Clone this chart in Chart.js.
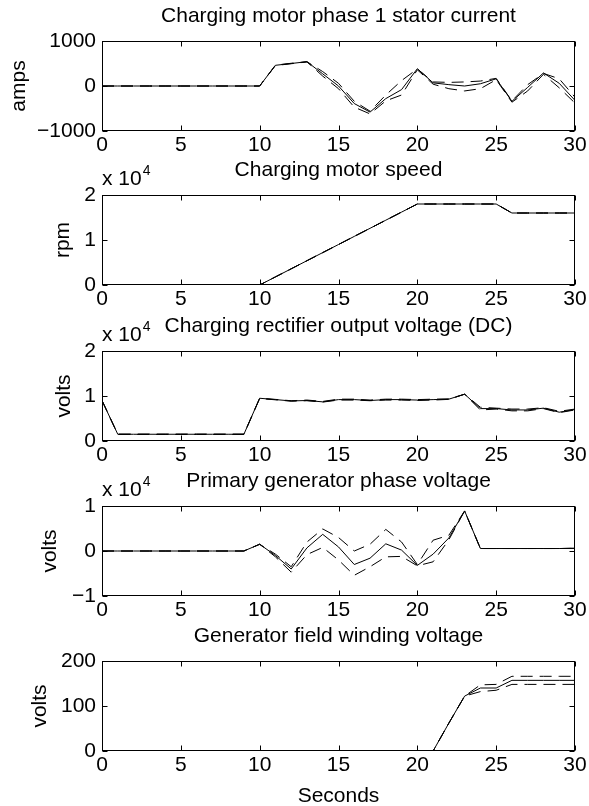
<!DOCTYPE html>
<html>
<head>
<meta charset="utf-8">
<script src="https://cdn.jsdelivr.net/npm/chart.js@4.4.1/dist/chart.umd.min.js"></script>
<style>
  html, body { margin: 0; padding: 0; background: #fff; }
  #wrap { position: relative; width: 589px; height: 806px; overflow: hidden; }
  canvas { position: absolute; left: 0; }
</style>
</head>
<body>
<div id="wrap">
  <canvas id="c1"></canvas>
  <canvas id="c2"></canvas>
  <canvas id="c3"></canvas>
  <canvas id="c4"></canvas>
  <canvas id="c5"></canvas>
</div>
<script>
// time axis (seconds)
const seconds = [0,1,2,3,4,5,6,7,8,9,10,11,12,13,14,15,16,17,18,19,20,21,22,23,24,25,26,27,28,29,30];
const xTicks = [0, 5, 10, 15, 20, 25, 30];

// Charging motor phase 1 stator current (amps)
const currentSolid = [0,0,0,0,0,0,0,0,0,0,0,460,500,540,270,0,-390,-580,-280,-80,385,70,30,0,50,160,-340,-30,290,60,-320];
const currentUpper = [0,0,0,0,0,0,0,0,0,0,0,465,505,540,320,60,-340,-560,-200,120,380,90,80,90,110,170,-330,30,280,160,-250];
const currentLower = [0,0,0,0,0,0,0,0,0,0,0,455,495,535,220,-60,-470,-620,-330,-200,360,40,-60,-110,-60,140,-360,-110,260,-40,-380];

// Charging motor speed (rpm)
const speedSolid = [0,0,0,0,0,0,0,0,0,0,0,1800,3600,5400,7200,9000,10800,12600,14400,16200,18000,18000,18000,18000,18000,18000,16000,16000,16000,16000,16000];
const speedUpper = [0,0,0,0,0,0,0,0,0,0,0,1800,3600,5400,7200,9000,10800,12600,14400,16200,18000,18000,18000,18000,18000,18000,16000,16000,16000,16000,16000];
const speedLower = [0,0,0,0,0,0,0,0,0,0,0,1800,3600,5400,7200,9000,10800,12600,14400,16200,18000,18000,18000,18000,18000,18000,16000,16000,16000,16000,16000];

// Charging rectifier output voltage, DC (volts)
const dcSolid = [9000,1500,1500,1500,1500,1500,1500,1500,1500,1500,9500,9200,8900,9000,8700,9200,9200,9000,9200,9200,9100,9200,9300,10400,7200,7200,6900,6900,7300,6400,7000];
const dcUpper = [9000,1550,1550,1550,1550,1550,1550,1550,1550,1550,9500,9250,8950,9100,8800,9300,9300,9100,9300,9300,9200,9300,9350,10400,7500,7300,7100,7100,7400,6600,7100];
const dcLower = [9000,1450,1450,1450,1450,1450,1450,1450,1450,1450,9450,9150,8850,8950,8650,9100,9100,8950,9100,9100,9000,9100,9250,10400,6900,7100,6700,6700,7200,6300,6900];

// Primary generator phase voltage (volts)
const phaseSolid = [0,0,0,0,0,0,0,0,0,0,1500,-1000,-4000,700,3700,900,-3000,-1600,1600,200,-3200,-700,2900,8900,550,550,550,550,550,550,600];
const phaseUpper = [0,0,0,0,0,0,0,0,0,0,1500,-700,-3500,2000,4900,3000,0,1500,4800,2000,-3000,2400,3500,8900,550,550,550,550,550,550,600];
const phaseLower = [0,0,0,0,0,0,0,0,0,0,1500,-1300,-4700,-800,800,-2000,-5400,-3500,-1300,-1200,-3300,-2400,2500,8900,550,550,550,550,550,550,600];

// Generator field winding voltage (volts)
const fieldSolid = [0,0,0,0,0,0,0,0,0,0,0,0,0,0,0,0,0,0,0,0,0,0,62,122,140,140,157,157,157,157,157];
const fieldUpper = [0,0,0,0,0,0,0,0,0,0,0,0,0,0,0,0,0,0,0,0,0,0,62,122,147,148,166,166,166,166,166];
const fieldLower = [0,0,0,0,0,0,0,0,0,0,0,0,0,0,0,0,0,0,0,0,0,0,62,122,132,135,148,148,148,148,148];

const panelTitles = [
  'Charging motor phase 1 stator current',
  'Charging motor speed',
  'Charging rectifier output voltage (DC)',
  'Primary generator phase voltage',
  'Generator field winding voltage'
];
const yLabels = ['amps', 'rpm', 'volts', 'volts', 'volts'];
const yTicks = [
  [-1000, 0, 1000],
  [0, 10000, 20000],
  [0, 10000, 20000],
  [-10000, 0, 10000],
  [0, 100, 200]
];
const yExponent = [0, 4, 4, 4, 0];
const xLabel = 'Seconds';

// layout (pixels)
const FONT = '"Liberation Sans", Arial, Helvetica, sans-serif';
const panelTops = [41, 195, 351, 506, 661];
const plotHeight = 90;
const plotLeft = 102;
const plotRight = 575;
const headSpace = 45;
const yLabelX = [19, 63, 64, 50, 40];

// box with inward ticks + titles, drawn by hand like MATLAB
const frame = {
  id: 'frame',
  afterDraw(chart, args, opts) {
    const { ctx, chartArea: a, scales: { x, y } } = chart;
    const L = a.left + 0.5, R = a.right - 0.5, T = a.top + 0.5, B = a.bottom - 0.5;
    ctx.save();
    ctx.strokeStyle = '#000';
    ctx.lineWidth = 1;
    ctx.strokeRect(L, T, R - L, B - T);
    ctx.beginPath();
    x.ticks.forEach(t => {
      const px = Math.round(x.getPixelForValue(t.value)) + 0.5;
      ctx.moveTo(px, B); ctx.lineTo(px, B - 5);
      ctx.moveTo(px, T); ctx.lineTo(px, T + 5);
    });
    y.ticks.forEach(t => {
      const py = Math.round(y.getPixelForValue(t.value)) + 0.5;
      ctx.moveTo(L, py); ctx.lineTo(L + 5, py);
      ctx.moveTo(R, py); ctx.lineTo(R - 5, py);
    });
    ctx.stroke();

    ctx.fillStyle = '#000';
    ctx.font = '21px ' + FONT;
    ctx.textAlign = 'center';
    ctx.textBaseline = 'alphabetic';
    ctx.fillText(opts.title, (a.left + a.right) / 2, a.top - 19);

    if (opts.exponent) {
      ctx.textAlign = 'left';
      ctx.fillText('x 10', a.left, a.top - 10);
      const w = ctx.measureText('x 10').width;
      ctx.font = '14px ' + FONT;
      ctx.fillText(String(opts.exponent), a.left + w + 1, a.top - 20);
      ctx.font = '21px ' + FONT;
    }

    if (opts.xlabel) {
      ctx.textAlign = 'center';
      ctx.fillText(opts.xlabel, (a.left + a.right) / 2, a.bottom + 51);
    }

    ctx.translate(opts.ylabelX, (a.top + a.bottom) / 2);
    ctx.rotate(-Math.PI / 2);
    ctx.textAlign = 'center';
    ctx.textBaseline = 'middle';
    ctx.fillText(opts.ylabel, 0, 0);
    ctx.restore();
  }
};

function toPoints(vals) {
  return seconds.map((t, i) => ({ x: t, y: vals[i] }));
}

function makePanel(i, solid, upper, lower) {
  const canvas = document.getElementById('c' + (i + 1));
  const bottomSpace = i === 4 ? 806 - (panelTops[i] + plotHeight) : 35;
  const h = headSpace + plotHeight + bottomSpace;
  canvas.width = 589;
  canvas.height = h;
  canvas.style.top = (panelTops[i] - headSpace) + 'px';
  const ticks = yTicks[i];
  const exp = yExponent[i];

  const lineStyle = { borderColor: '#000', borderWidth: 1, pointRadius: 0, tension: 0, fill: false };

  new Chart(canvas.getContext('2d'), {
    type: 'line',
    data: {
      datasets: [
        Object.assign({ data: toPoints(solid) }, lineStyle),
        Object.assign({ data: toPoints(upper), borderDash: [12, 7] }, lineStyle),
        Object.assign({ data: toPoints(lower), borderDash: [12, 7] }, lineStyle)
      ]
    },
    options: {
      responsive: false,
      animation: false,
      devicePixelRatio: 1,
      layout: { padding: { top: headSpace, right: 589 - plotRight, left: 0, bottom: 0 } },
      plugins: {
        legend: { display: false },
        tooltip: { enabled: false },
        frame: {
          title: panelTitles[i],
          ylabel: yLabels[i],
          ylabelX: yLabelX[i],
          exponent: exp,
          xlabel: i === 4 ? xLabel : ''
        }
      },
      scales: {
        x: {
          type: 'linear',
          min: xTicks[0],
          max: xTicks[xTicks.length - 1],
          afterBuildTicks: s => { s.ticks = xTicks.map(v => ({ value: v })); },
          ticks: { color: '#000', font: { family: FONT, size: 21 }, padding: 2, maxRotation: 0, autoSkip: false },
          grid: { display: false, drawTicks: false },
          border: { display: false },
          afterFit: s => { s.height = bottomSpace; }
        },
        y: {
          type: 'linear',
          min: ticks[0],
          max: ticks[ticks.length - 1],
          afterBuildTicks: s => { s.ticks = ticks.map(v => ({ value: v })); },
          ticks: {
            color: '#000',
            font: { family: FONT, size: 21 },
            padding: 6,
            callback: v => {
              const n = exp ? v / Math.pow(10, exp) : v;
              return String(n).replace('-', '\u2212');
            }
          },
          grid: { display: false, drawTicks: false },
          border: { display: false },
          afterFit: s => { s.width = plotLeft; }
        }
      }
    },
    plugins: [frame]
  });
}

makePanel(0, currentSolid, currentUpper, currentLower);
makePanel(1, speedSolid, speedUpper, speedLower);
makePanel(2, dcSolid, dcUpper, dcLower);
makePanel(3, phaseSolid, phaseUpper, phaseLower);
makePanel(4, fieldSolid, fieldUpper, fieldLower);
</script>
</body>
</html>
